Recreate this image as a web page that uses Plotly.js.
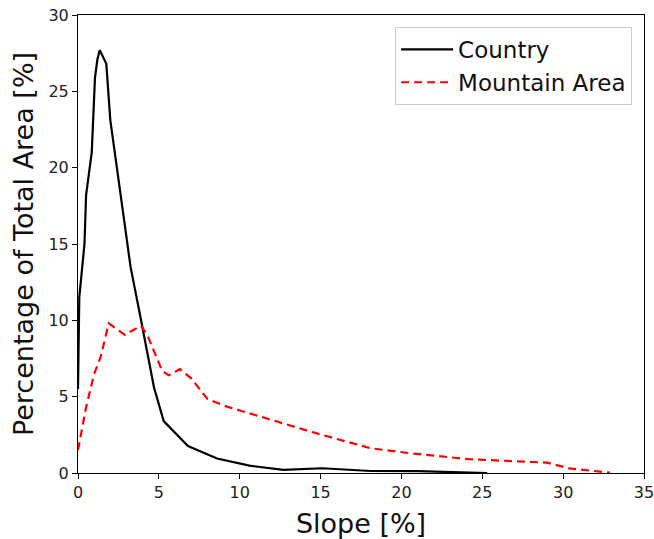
<!DOCTYPE html>
<html>
<head>
<meta charset="utf-8">
<script src="https://cdn.plot.ly/plotly-3.0.1.min.js"></script>
<style>html,body{margin:0;padding:0;background:#fff;}#chart{width:654px;height:539px;}</style>
</head>
<body>
<div id="chart"></div>
<script>
const countrySlope = [0, 0.08, 0.4, 0.5, 0.85, 1.05, 1.2, 1.35, 1.75, 2.0, 2.6, 3.25, 3.9, 4.7, 5.3, 6.8, 8.6, 10.6, 12.7, 15.1, 18.1, 21.0, 25.3];
const countryPct   = [5.5, 11.5, 15.0, 18.2, 21.0, 25.9, 27.1, 27.7, 26.8, 23.1, 18.5, 13.5, 10.0, 5.6, 3.4, 1.77, 0.95, 0.48, 0.2, 0.31, 0.13, 0.12, 0.0];
const mountainSlope = [0, 0.5, 1.0, 1.4, 1.9, 2.9, 3.9, 4.3, 5.2, 5.6, 6.3, 7.0, 8.0, 9.2, 11.9, 14.4, 18.1, 20.5, 24.2, 29.0, 30.4, 32.9];
const mountainPct   = [1.5, 4.3, 6.5, 7.6, 9.8, 9.05, 9.65, 9.0, 6.7, 6.4, 6.8, 6.2, 4.85, 4.35, 3.5, 2.7, 1.62, 1.3, 0.9, 0.68, 0.3, 0.02];
const xTicks = [0, 5, 10, 15, 20, 25, 30, 35];
const yTicks = [0, 5, 10, 15, 20, 25, 30];

const font = 'DejaVu Sans, sans-serif';
const traces = [
  {x: countrySlope, y: countryPct, mode: 'lines', name: 'Country',
   line: {color: '#000000', width: 2.2}},
  {x: mountainSlope, y: mountainPct, mode: 'lines', name: 'Mountain Area',
   line: {color: '#ff0000', width: 2.2, dash: '8px,5px'}}
];
const axisCommon = {
  showgrid: false, zeroline: false, showline: true, linecolor: '#000', linewidth: 1,
  mirror: true, ticks: 'outside', ticklen: 5, tickwidth: 1, tickcolor: '#000',
  ticklabeloverflow: 'allow',
  tickfont: {family: font, size: 16, color: '#222'}
};
const layout = {
  width: 654, height: 539,
  margin: {l: 78, r: 10, t: 15, b: 66},
  paper_bgcolor: '#fff', plot_bgcolor: '#fff',
  showlegend: true,
  legend: {x: 0.979, xanchor: 'right', y: 0.974, yanchor: 'top',
    itemwidth: 52,
    bgcolor: '#fff', bordercolor: '#cccccc', borderwidth: 1,
    font: {family: font, size: 23, color: '#111'}},
  xaxis: Object.assign({}, axisCommon, {range: [0, 35], tickvals: xTicks, ticktext: xTicks.map(String),
    title: {text: 'Slope [%]', font: {family: font, size: 27, color: '#111'}, standoff: 14}}),
  yaxis: Object.assign({}, axisCommon, {range: [0, 30], tickvals: yTicks, ticktext: yTicks.map(String),
    title: {text: 'Percentage of Total Area [%]', font: {family: font, size: 27, color: '#111'}, standoff: 6}})
};
Plotly.newPlot('chart', traces, layout, {displayModeBar: false, staticPlot: true});
</script>
</body>
</html>
